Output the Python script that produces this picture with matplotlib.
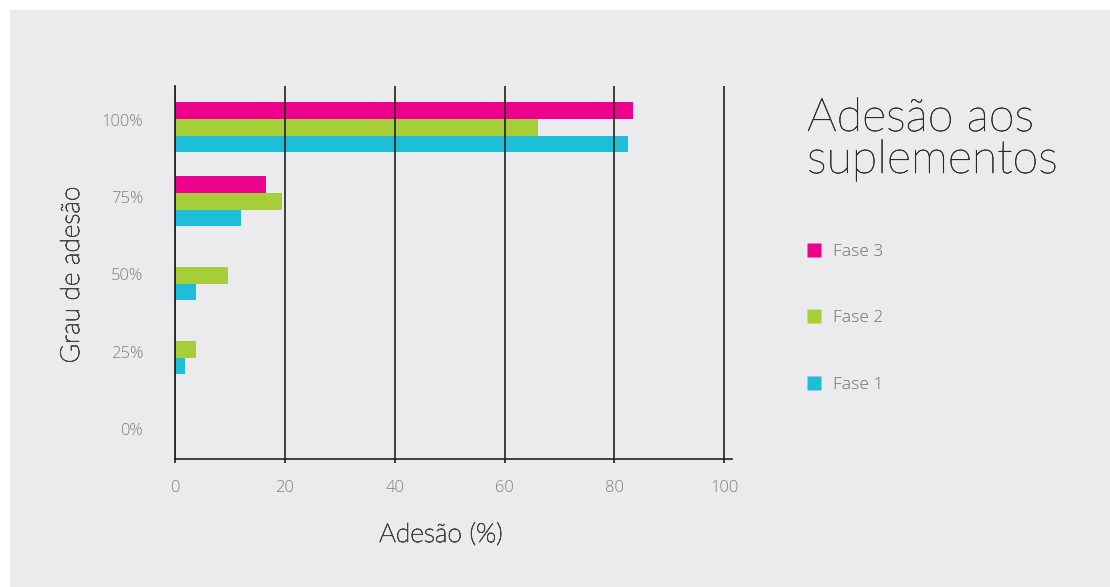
import matplotlib
matplotlib.use("Agg")
import matplotlib.pyplot as plt
import matplotlib.patheffects as pe
from matplotlib.patches import Rectangle
from matplotlib.lines import Line2D

categories = ["0%", "25%", "50%", "75%", "100%"]
fase1 = [0, 1.8, 3.8, 12.0, 82.5]
fase2 = [0, 3.8, 9.6, 19.5, 66.1]
fase3 = [0, 0, 0, 16.6, 83.3]
xticks = [0, 20, 40, 60, 80, 100]

colors = {"Fase 3": "#ec008c", "Fase 2": "#a6ce39", "Fase 1": "#1cbed8"}
series = {"Fase 3": fase3, "Fase 2": fase2, "Fase 1": fase1}
offsets = {"Fase 3": 0.225, "Fase 2": 0.0, "Fase 1": -0.225}

TICK_FONT = dict(family=["Open Sans", "DejaVu Sans"], weight="light")
THIN_FONT = dict(family=["Lato", "DejaVu Sans"], weight="light")
DARK = "#231f20"

W, H = 1110, 587
fig = plt.figure(figsize=(W / 100, H / 100), dpi=100)
fig.patch.set_facecolor("white")
fig.add_artist(Rectangle((10 / W, 0), 1, 1 - 10 / H, transform=fig.transFigure,
                         facecolor="#ebebed", edgecolor="none", zorder=0))

ax = fig.add_axes([175 / W, 1 - 459 / H, (732 - 175) / W, (459 - 86) / H])
ax.set_facecolor("none")

ypos = list(range(len(categories)))
for name, vals in series.items():
    ax.barh([y + offsets[name] for y in ypos], vals, height=0.225,
            color=colors[name], edgecolor="none", zorder=1)

ax.set_xlim(0, 101.4)
ax.set_ylim(-0.48, 4.56)
ax.set_xticks(xticks)
ax.set_xticklabels([str(v) for v in xticks], color="#808080", fontsize=12, **TICK_FONT)
# labels in the original sit on a slightly wider spacing than the bar groups
ax.set_yticks([-0.07 + 1.042 * y for y in ypos])
ax.set_yticklabels(categories, color="#808080", fontsize=12, **TICK_FONT)

ax.set_axisbelow(False)
ax.grid(axis="x", color=DARK, lw=1.2)
ax.grid(axis="y", visible=False)
for side in ["top", "right"]:
    ax.spines[side].set_visible(False)
for side in ["left", "bottom"]:
    ax.spines[side].set_color(DARK)
    ax.spines[side].set_linewidth(1.2)
    ax.spines[side].set_zorder(3)
ax.tick_params(axis="x", direction="out", length=3, width=1.2, color=DARK, pad=12)
ax.tick_params(axis="y", length=0, pad=23)

# thin font looks washed out at this size, so thicken it a touch
label_fx = [pe.withStroke(linewidth=0.6, foreground="#444444")]
title_fx = [pe.withStroke(linewidth=0.4, foreground="#2a2a2a")]

fig.text(441 / W, 1 - 542 / H, "Adesão (%)", ha="center", va="baseline",
         fontsize=19, color="#444444", path_effects=label_fx, **THIN_FONT)
fig.text(72 / W, 1 - 275 / H, "Grau de adesão", ha="center", va="center",
         rotation=90, fontsize=19, color="#444444", path_effects=label_fx, **THIN_FONT)
fig.text(807 / W, 1 - 131 / H, "Adesão aos", ha="left", va="baseline",
         fontsize=33.6, color="#2a2a2a", path_effects=title_fx, **THIN_FONT)
fig.text(807 / W, 1 - 173 / H, "suplementos", ha="left", va="baseline",
         fontsize=33.6, color="#2a2a2a", path_effects=title_fx, **THIN_FONT)

handles = [Line2D([], [], marker="s", linestyle="none", markersize=10,
                  markerfacecolor=colors[n], markeredgecolor="none") for n in series]
leg = fig.legend(handles, list(series.keys()), loc="upper left",
                 bbox_to_anchor=(797 / W, 1 - 235 / H), bbox_transform=fig.transFigure,
                 frameon=False, borderpad=0, handlelength=1.0, handletextpad=0.6,
                 labelspacing=2.9,
                 prop=dict(family=["Open Sans", "DejaVu Sans"], weight="light", size=12.5))
for t in leg.get_texts():
    t.set_color("#6e6e6e")

fig.savefig("out.png", dpi=100, facecolor=fig.get_facecolor())
